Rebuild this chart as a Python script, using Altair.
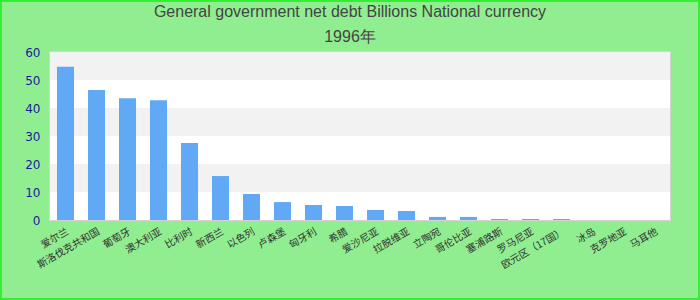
import altair as alt
import pandas as pd

title_text = "General government net debt Billions National currency"
subtitle_text = "1996年"

countries = ["爱尔兰", "斯洛伐克共和国", "葡萄牙", "澳大利亚", "比利时", "新西兰", "以色列",
             "卢森堡", "匈牙利", "希腊", "爱沙尼亚", "拉脱维亚", "立陶宛", "哥伦比亚",
             "塞浦路斯", "罗马尼亚", "欧元区（17国）", "冰岛", "克罗地亚", "马耳他"]
values = [54.7, 46.4, 43.5, 42.8, 27.5, 15.7, 9.3, 6.4, 5.4, 5.0,
          3.6, 3.2, 1.1, 1.1, 0.35, 0.35, 0.35, 0.0, 0.0, 0.0]
band_lo = [0, 10, 20, 30, 40, 50]
band_hi = [10, 20, 30, 40, 50, 60]
band_fill = ["#ffffff", "#f2f2f2", "#ffffff", "#f2f2f2", "#ffffff", "#f2f2f2"]
y_ticks = [0, 10, 20, 30, 40, 50, 60]

df = pd.DataFrame({"country": countries, "value": values})
bands = pd.DataFrame({"lo": band_lo, "hi": band_hi, "fill": band_fill})
titles = pd.DataFrame({"t": [title_text, subtitle_text], "row": [0, 1]})

yscale = alt.Scale(domain=[0, 60])
yaxis = alt.Axis(values=y_ticks, grid=False, ticks=False, domain=False,
                 labelColor="#1a1a9c", labelFontSize=12, labelFont="DejaVu Sans",
                 labelPadding=10)

band_layer = alt.Chart(bands).mark_rect().encode(
    x=alt.value(0), x2=alt.value(620),
    y=alt.Y("lo:Q", scale=yscale, axis=yaxis, title=None),
    y2="hi:Q",
    color=alt.Color("fill:N", scale=None),
)

bars = alt.Chart(df).mark_bar(color="#62a9f5").encode(
    x=alt.X("country:N", sort=None, title=None,
            scale=alt.Scale(paddingInner=0.45, paddingOuter=0.225),
            axis=alt.Axis(labelAngle=-30, labelAlign="right", labelBaseline="top",
                          labelFont="Noto Sans CJK SC", labelFontSize=10,
                          labelColor="#333333", labelPadding=6, ticks=False,
                          domain=False, labelOverlap=False, labelLimit=200)),
    y=alt.Y("value:Q", scale=yscale, title=None, axis=yaxis),
)

text_style = dict(font="Liberation Sans", fontSize=16, color="#444444",
                  baseline="middle", align="center", clip=False)
title_layer = alt.Chart(titles).transform_filter("datum.row == 0").mark_text(**text_style).encode(
    x=alt.value(300), y=alt.value(-40), text="t:N")
subtitle_layer = alt.Chart(titles).transform_filter("datum.row == 1").mark_text(**text_style).encode(
    x=alt.value(300), y=alt.value(-15), text="t:N")

frame = alt.Chart(bands).mark_rect(fill=None, stroke="#33ee33", strokeWidth=2, clip=False).encode(
    x=alt.value(-49), x2=alt.value(649), y=alt.value(-51), y2=alt.value(247)
)

chart = alt.layer(band_layer, bars, title_layer, subtitle_layer, frame).properties(
    width=620, height=168,
    autosize=alt.AutoSizeParams(type="none"),
    padding={"left": 50, "top": 52, "right": 30, "bottom": 80},
).configure(background="#90ee90").configure_view(stroke="#d4d4d4", strokeWidth=2)

chart.save("out.html", embed_options={"renderer": "svg", "actions": False})
